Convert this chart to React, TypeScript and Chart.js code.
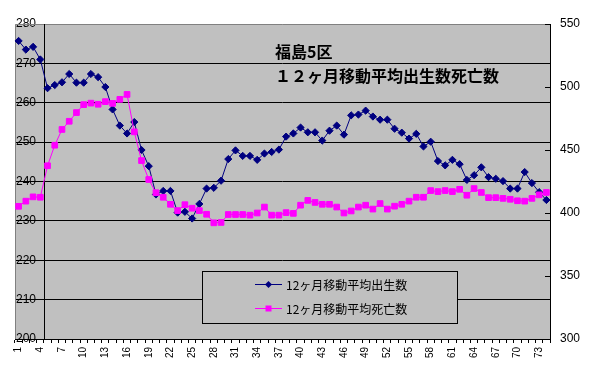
import React, { useEffect, useRef } from 'react';
import { Chart, registerables } from 'chart.js';

Chart.register(...registerables);

const categories = [
  1, 2, 3, 4, 5, 6, 7, 8, 9, 10, 11, 12, 13, 14, 15, 16, 17, 18, 19, 20,
  21, 22, 23, 24, 25, 26, 27, 28, 29, 30, 31, 32, 33, 34, 35, 36, 37, 38, 39, 40,
  41, 42, 43, 44, 45, 46, 47, 48, 49, 50, 51, 52, 53, 54, 55, 56, 57, 58, 59, 60,
  61, 62, 63, 64, 65, 66, 67, 68, 69, 70, 71, 72, 73, 74,
];

const xTickLabels = [
  '1', '4', '7', '10', '13', '16', '19', '22', '25', '28', '31', '34', '37',
  '40', '43', '46', '49', '52', '55', '58', '61', '64', '67', '70', '73',
];

const births = [
  275.7, 273.5, 274.2, 271.0, 263.7, 264.5, 265.2, 267.3, 265.1, 265.1,
  267.3, 266.5, 264.0, 258.3, 254.2, 252.2, 255.1, 248.0, 243.9, 236.7,
  237.6, 237.6, 232.1, 232.3, 230.6, 234.3, 238.2, 238.4, 240.2, 245.7,
  247.9, 246.5, 246.5, 245.5, 247.1, 247.5, 248.1, 251.4, 252.2, 253.7,
  252.5, 252.5, 250.4, 252.9, 254.2, 251.9, 256.8, 257.0, 258.0, 256.5,
  255.7, 255.7, 253.4, 252.4, 250.9, 252.1, 248.9, 250.1, 245.2, 244.1,
  245.5, 244.4, 240.4, 241.6, 243.6, 241.1, 240.7, 240.1, 238.2, 238.2,
  242.4, 239.6, 237.3, 235.3,
];

const deaths = [
  405.3, 409.4, 412.8, 412.5, 437.5, 453.8, 466.3, 472.8, 479.7, 486.0,
  487.2, 486.3, 488.4, 487.0, 490.2, 494.1, 464.4, 441.6, 426.6, 416.1,
  412.5, 406.9, 401.9, 406.6, 403.8, 401.9, 399.0, 392.2, 392.5, 398.8,
  398.8, 398.8, 398.3, 400.0, 404.7, 398.3, 398.3, 400.3, 399.7, 406.2,
  410.0, 408.4, 406.9, 406.9, 404.7, 400.0, 401.6, 404.7, 406.2, 403.1,
  407.5, 403.1, 405.4, 406.9, 409.4, 412.5, 412.5, 417.8, 417.0, 417.8,
  417.0, 418.8, 414.1, 419.4, 416.3, 412.2, 412.2, 411.6, 410.9, 409.7,
  409.4, 411.6, 414.4, 416.3,
];

const birthsLabel = '12ヶ月移動平均出生数';
const deathsLabel = '12ヶ月移動平均死亡数';
const titleLines = ['福島5区', '１２ヶ月移動平均出生数死亡数'];

const leftMin = 200;
const leftMax = 280;
const leftStep = 10;
const rightMin = 300;
const rightMax = 550;
const rightStep = 50;

const NAVY = '#000080';
const MAGENTA = '#FF00FF';
const PLOT_BG = '#C0C0C0';
const AXIS_FONT = '"Liberation Sans", Arial, sans-serif';
const JP_FONT = '"Noto Sans CJK JP", "Noto Sans", sans-serif';

const decorPlugin = {
  id: 'decor',
  beforeDraw(chart: any) {
    const { ctx, chartArea: a } = chart;
    ctx.save();
    ctx.fillStyle = '#FFFFFF';
    ctx.fillRect(0, 0, chart.width, chart.height);
    ctx.fillStyle = PLOT_BG;
    ctx.fillRect(a.left, a.top, a.right - a.left, a.bottom - a.top);
    ctx.restore();
  },
  beforeDatasetsDraw(chart: any) {
    const { ctx, chartArea: a } = chart;
    const xs = chart.scales.x;
    const yr = chart.scales.y1;
    ctx.save();
    // gray border top / left
    ctx.strokeStyle = '#808080';
    ctx.lineWidth = 1;
    ctx.beginPath();
    ctx.moveTo(a.left + 0.5, a.bottom);
    ctx.lineTo(a.left + 0.5, a.top + 0.5);
    ctx.lineTo(a.right, a.top + 0.5);
    ctx.stroke();

    // vertical axis crossing line between category 4 and 5
    const cx = Math.round((xs.getPixelForValue(3) + xs.getPixelForValue(4)) / 2) + 0.5;
    ctx.strokeStyle = '#000';
    ctx.beginPath();
    ctx.moveTo(cx, a.top);
    ctx.lineTo(cx, a.bottom);
    ctx.stroke();

    // right axis inside tick marks
    ctx.beginPath();
    for (let v = rightMin; v <= rightMax; v += rightStep) {
      const py = Math.round(yr.getPixelForValue(v)) + 0.5;
      ctx.moveTo(a.right - 5, py);
      ctx.lineTo(a.right, py);
    }
    ctx.stroke();

    // legend box
    const lx = 202, ly = 271, lw = 255, lh = 52;
    ctx.fillStyle = PLOT_BG;
    ctx.fillRect(lx, ly, lw, lh);
    ctx.strokeStyle = '#000';
    ctx.strokeRect(lx + 0.5, ly + 0.5, lw, lh);

    const rows = [
      { label: birthsLabel, color: NAVY, style: 'diamond', y: 284 },
      { label: deathsLabel, color: MAGENTA, style: 'square', y: 308 },
    ];
    rows.forEach((r) => {
      ctx.strokeStyle = r.color;
      ctx.lineWidth = 1;
      ctx.beginPath();
      ctx.moveTo(255, r.y + 0.5);
      ctx.lineTo(282, r.y + 0.5);
      ctx.stroke();
      ctx.fillStyle = r.color;
      const mx = 268.5, my = r.y + 0.5;
      if (r.style === 'diamond') {
        ctx.beginPath();
        ctx.moveTo(mx, my - 3.5);
        ctx.lineTo(mx + 3.5, my);
        ctx.lineTo(mx, my + 3.5);
        ctx.lineTo(mx - 3.5, my);
        ctx.closePath();
        ctx.fill();
      } else {
        ctx.fillRect(mx - 3, my - 3, 6, 6);
      }
      ctx.fillStyle = '#000';
      ctx.font = `12px ${JP_FONT}`;
      ctx.textAlign = 'left';
      ctx.textBaseline = 'middle';
      ctx.fillText(r.label, 286, r.y + 1);
    });

    // title
    ctx.fillStyle = '#000';
    ctx.font = `bold 16px ${JP_FONT}`;
    ctx.textAlign = 'left';
    ctx.textBaseline = 'middle';
    ctx.fillText(titleLines[0], 275, 51.5);
    ctx.fillText(titleLines[1], 275, 75.5);
    ctx.restore();
  },
};

export default function App() {
  const canvasRef = useRef<HTMLCanvasElement | null>(null);

  useEffect(() => {
    const canvas = canvasRef.current;
    if (!canvas) return;
    const chart = new Chart(canvas, {
      type: 'line',
      data: {
        labels: categories.map(String),
        datasets: [
          {
            label: birthsLabel,
            data: births,
            yAxisID: 'y',
            order: 1,
            borderColor: NAVY,
            backgroundColor: NAVY,
            borderWidth: 1,
            pointStyle: 'rectRot',
            pointRadius: 3.6,
            pointBorderWidth: 1,
            pointBackgroundColor: NAVY,
            pointBorderColor: NAVY,
            tension: 0,
            fill: false,
          },
          {
            label: deathsLabel,
            data: deaths,
            yAxisID: 'y1',
            order: 0,
            borderColor: MAGENTA,
            backgroundColor: MAGENTA,
            borderWidth: 1,
            pointStyle: 'rect',
            pointRadius: 4,
            pointBorderWidth: 1,
            pointBackgroundColor: MAGENTA,
            pointBorderColor: MAGENTA,
            tension: 0,
            fill: false,
          },
        ],
      },
      options: {
        responsive: false,
        animation: false,
        devicePixelRatio: 1,
        layout: { padding: { top: 24, left: 0, right: 0, bottom: 0 } },
        plugins: {
          legend: { display: false },
          tooltip: { enabled: false },
          title: { display: false },
        },
        scales: {
          x: {
            type: 'category',
            offset: true,
            grid: {
              display: true,
              offset: true,
              drawOnChartArea: false,
              drawTicks: true,
              tickLength: 4,
              color: '#000',
              lineWidth: 1,
            },
            border: { display: true, color: '#000', width: 1 },
            ticks: {
              autoSkip: false,
              maxRotation: 90,
              minRotation: 90,
              padding: 4,
              color: '#000',
              font: { family: AXIS_FONT, size: 10 },
              callback: (_v: any, i: number) => {
                const s = String(categories[i]);
                return xTickLabels.includes(s) ? s : '';
              },
            },
            afterFit: (s: any) => {
              s.height = 39;
            },
          },
          y: {
            type: 'linear',
            position: 'left',
            min: leftMin,
            max: leftMax,
            ticks: {
              stepSize: leftStep,
              mirror: true,
              padding: 1,
              color: '#000',
              font: { family: AXIS_FONT, size: 12 },
            },
            grid: {
              drawTicks: false,
              lineWidth: 1,
              color: (c: any) => (c.tick && c.tick.value === leftMax ? 'rgba(0,0,0,0)' : '#000'),
            },
            border: { display: false },
            afterFit: (s: any) => {
              s.width = 15;
            },
          },
          y1: {
            type: 'linear',
            position: 'right',
            min: rightMin,
            max: rightMax,
            ticks: {
              stepSize: rightStep,
              padding: 10,
              color: '#000',
              font: { family: AXIS_FONT, size: 12 },
            },
            grid: { drawOnChartArea: false, drawTicks: false },
            border: { display: true, color: '#000', width: 1 },
            afterFit: (s: any) => {
              s.width = 45;
            },
          },
        },
      },
      plugins: [decorPlugin],
    } as any);
    return () => {
      chart.destroy();
    };
  }, []);

  return (
    <div style={{ position: 'fixed', left: 0, top: 0, width: 595, height: 378, background: '#fff' }}>
      <canvas ref={canvasRef} width={595} height={378} style={{ display: 'block' }} />
    </div>
  );
}
